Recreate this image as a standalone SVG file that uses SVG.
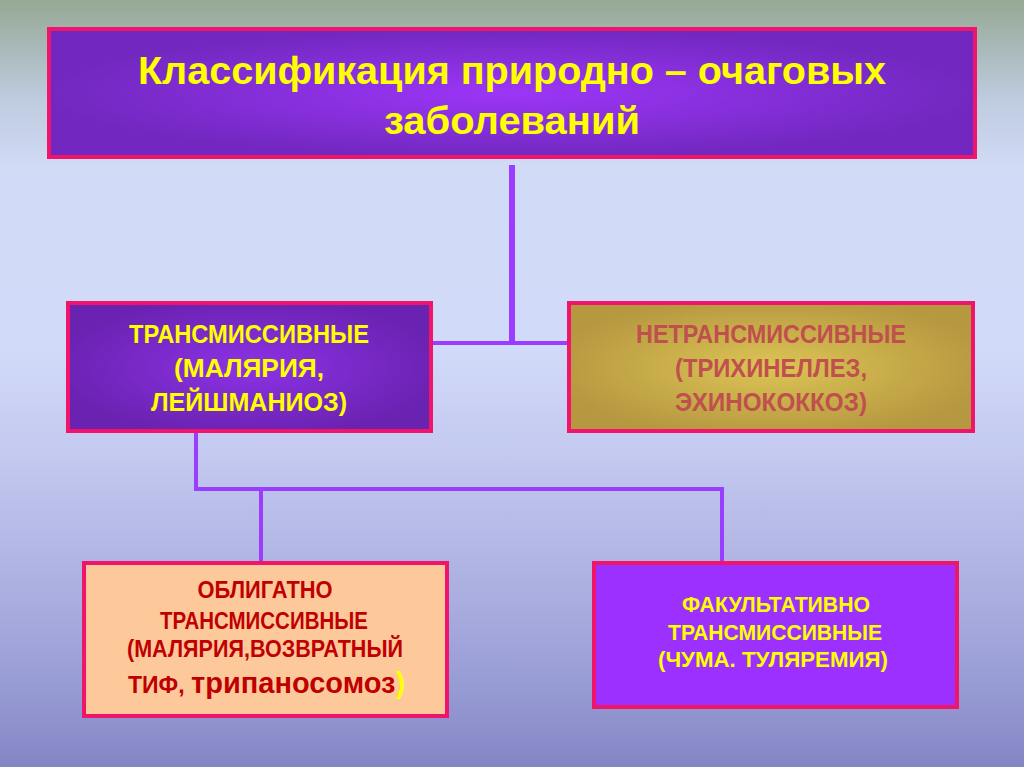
<svg xmlns="http://www.w3.org/2000/svg" width="1024" height="767" viewBox="0 0 1024 767">
  <defs>
    <linearGradient id="bg" x1="0" y1="0" x2="0" y2="1">
      <stop offset="0" stop-color="#95a995"/>
      <stop offset="0.13" stop-color="#bfcbdf"/>
      <stop offset="0.22" stop-color="#d1dbf6"/>
      <stop offset="0.45" stop-color="#d2daf9"/>
      <stop offset="0.6" stop-color="#c2c8ef"/>
      <stop offset="0.75" stop-color="#aeb2e2"/>
      <stop offset="0.88" stop-color="#9a9ed6"/>
      <stop offset="1" stop-color="#8486c4"/>
    </linearGradient>
    <radialGradient id="gTop" cx="0.5" cy="0.5" r="0.5">
      <stop offset="0" stop-color="#9c36f8"/>
      <stop offset="1" stop-color="#7228c0"/>
    </radialGradient>
    <radialGradient id="gLeft" cx="0.5" cy="0.5" r="0.55">
      <stop offset="0" stop-color="#8c32e6"/>
      <stop offset="1" stop-color="#6a22b0"/>
    </radialGradient>
    <radialGradient id="gRight" cx="0.5" cy="0.5" r="0.55">
      <stop offset="0" stop-color="#dcc455"/>
      <stop offset="1" stop-color="#b69840"/>
    </radialGradient>
  </defs>
  <style>
    .box { stroke: #f0146a; stroke-width: 4; }
    .conn { fill: none; stroke: #9b3dff; stroke-linecap: butt; stroke-linejoin: miter; }
    text { font-family: "Liberation Sans", Arial, sans-serif; font-weight: bold; text-anchor: middle; }
    .start { text-anchor: start; }
    .yel { fill: #ffff00; }
    .rose { fill: #c0504d; }
    .dred { fill: #c00000; }
  </style>

  <rect x="0" y="0" width="1024" height="767" fill="url(#bg)"/>

  <g id="connectors">
    <path class="conn" d="M512 165 V343" stroke-width="6"/>
    <path class="conn" d="M433 343 H567" stroke-width="4"/>
    <path class="conn" d="M196 433 V489 H722 V561" stroke-width="4"/>
    <path class="conn" d="M261 489 V561" stroke-width="4"/>
  </g>

  <g id="title">
    <rect class="box" x="49" y="29" width="926" height="128" fill="url(#gTop)"/>
    <text class="yel" x="512" y="84" font-size="39" textLength="748" lengthAdjust="spacingAndGlyphs">Классификация природно – очаговых</text>
    <text class="yel" x="512" y="134" font-size="39" textLength="256" lengthAdjust="spacingAndGlyphs">заболеваний</text>
  </g>

  <g id="transmissive">
    <rect class="box" x="68" y="303" width="363" height="128" fill="url(#gLeft)"/>
    <text class="yel" x="249" y="343" font-size="25" textLength="240" lengthAdjust="spacingAndGlyphs">ТРАНСМИССИВНЫЕ</text>
    <text class="yel" x="249" y="377" font-size="25" textLength="150" lengthAdjust="spacingAndGlyphs">(МАЛЯРИЯ,</text>
    <text class="yel" x="249" y="411" font-size="25" textLength="196" lengthAdjust="spacingAndGlyphs">ЛЕЙШМАНИОЗ)</text>
  </g>

  <g id="nontransmissive">
    <rect class="box" x="569" y="303" width="404" height="128" fill="url(#gRight)"/>
    <text class="rose" x="771" y="343" font-size="25" textLength="270" lengthAdjust="spacingAndGlyphs">НЕТРАНСМИССИВНЫЕ</text>
    <text class="rose" x="771" y="377" font-size="25" textLength="192" lengthAdjust="spacingAndGlyphs">(ТРИХИНЕЛЛЕЗ,</text>
    <text class="rose" x="771" y="411" font-size="25" textLength="192" lengthAdjust="spacingAndGlyphs">ЭХИНОКОККОЗ)</text>
  </g>

  <g id="obligate">
    <rect class="box" x="84" y="563" width="363" height="153" fill="#fdc99b"/>
    <text class="dred" x="265" y="598" font-size="23" textLength="135" lengthAdjust="spacingAndGlyphs">ОБЛИГАТНО</text>
    <text class="dred" x="264" y="629" font-size="23" textLength="208" lengthAdjust="spacingAndGlyphs">ТРАНСМИССИВНЫЕ</text>
    <text class="dred" x="265" y="657" font-size="23" textLength="276" lengthAdjust="spacingAndGlyphs">(МАЛЯРИЯ,ВОЗВРАТНЫЙ</text>
    <text class="dred start" x="128" y="693" font-size="23">ТИФ, <tspan font-size="29">трипаносомоз</tspan><tspan font-size="29" class="yel">)</tspan></text>
  </g>

  <g id="facultative">
    <rect class="box" x="594" y="563" width="363" height="144" fill="#9b30ff"/>
    <text class="yel" x="776" y="612" font-size="22" textLength="188" lengthAdjust="spacingAndGlyphs">ФАКУЛЬТАТИВНО</text>
    <text class="yel" x="775" y="640" font-size="22" textLength="214" lengthAdjust="spacingAndGlyphs">ТРАНСМИССИВНЫЕ</text>
    <text class="yel" x="773" y="667" font-size="22" textLength="230" lengthAdjust="spacingAndGlyphs">(ЧУМА. ТУЛЯРЕМИЯ)</text>
  </g>
</svg>
